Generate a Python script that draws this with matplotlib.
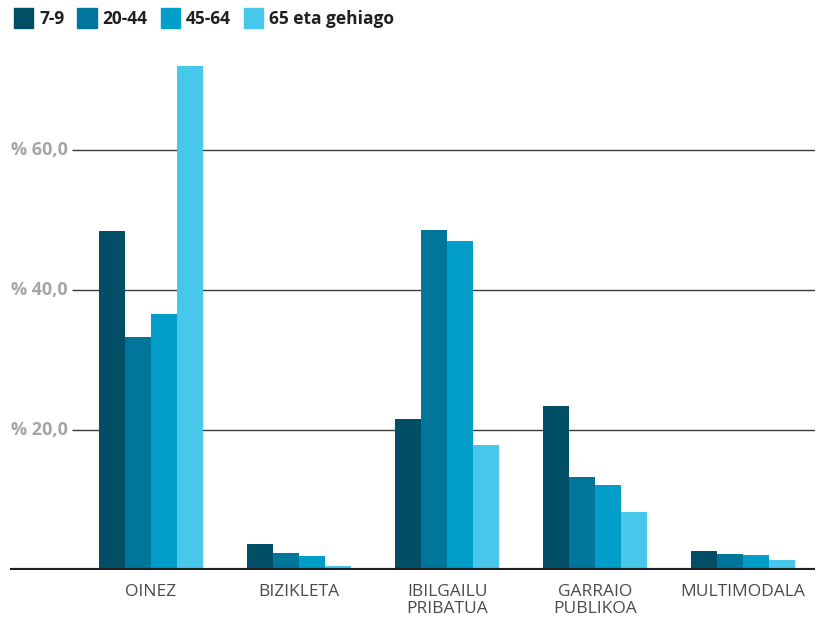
import numpy as np
import matplotlib
matplotlib.use("Agg")
import matplotlib.pyplot as plt
from matplotlib.patches import Patch

# Datos
categorias = ["OINEZ", "BIZIKLETA", "IBILGAILU\nPRIBATUA", "GARRAIO\nPUBLIKOA", "MULTIMODALA"]
grupos = ["7-9", "20-44", "45-64", "65 eta gehiago"]
v_7_9 = [48.4, 3.7, 21.6, 23.4, 2.7]
v_20_44 = [33.3, 2.4, 48.6, 13.3, 2.3]
v_45_64 = [36.6, 2.0, 47.0, 12.1, 2.1]
v_65 = [72.0, 0.6, 17.9, 8.3, 1.4]
series = [v_7_9, v_20_44, v_45_64, v_65]
colores = ["#024E66", "#00769A", "#009EC9", "#47C7EA"]
yticks = [20, 40, 60]
ytick_labels = ["% 20,0", "% 40,0", "% 60,0"]

plt.rcParams['font.family'] = ['Open Sans', 'DejaVu Sans']

fig = plt.figure(figsize=(8.29, 6.19), dpi=100)
ax = fig.add_axes([10 / 829, 49 / 619, 805 / 829, 530 / 619])

x = np.arange(len(categorias))
ancho = 0.176
for i, (vals, col) in enumerate(zip(series, colores)):
    ax.bar(x + (i - 1.5) * ancho, vals, width=ancho, color=col, zorder=3)

ax.set_xlim(-0.953, 4.486)
ax.set_ylim(0, 75.7)

# Líneas de la cuadrícula
ax.hlines(yticks, -0.534, 4.486, color="#3a3a3a", linewidth=1.0, zorder=1)
ax.axhline(0, color="#231F20", linewidth=3, zorder=4)

for t, lab in zip(yticks, ytick_labels):
    ax.text(-0.565, t, lab, ha="right", va="center", fontsize=13,
            fontweight="bold", color="#A5A5A8")

for xi, lab in zip(x, categorias):
    ax.text(xi, -2.0, lab, ha="center", va="top", fontsize=12.5,
            color="#4a4a4a", linespacing=1.1)

for s in ax.spines.values():
    s.set_visible(False)
ax.set_xticks([])
ax.set_yticks([])

handles = [Patch(color=c) for c in colores]
fig.legend(handles, grupos, loc="upper left", bbox_to_anchor=(-0.002, 1.012),
           ncol=4, frameon=False, handlelength=1.1, handleheight=1.35,
           handletextpad=0.35, columnspacing=0.75,
           prop={"weight": "bold", "size": 12.5}, labelcolor="#231F20")

fig.savefig("out.png", dpi=100)
